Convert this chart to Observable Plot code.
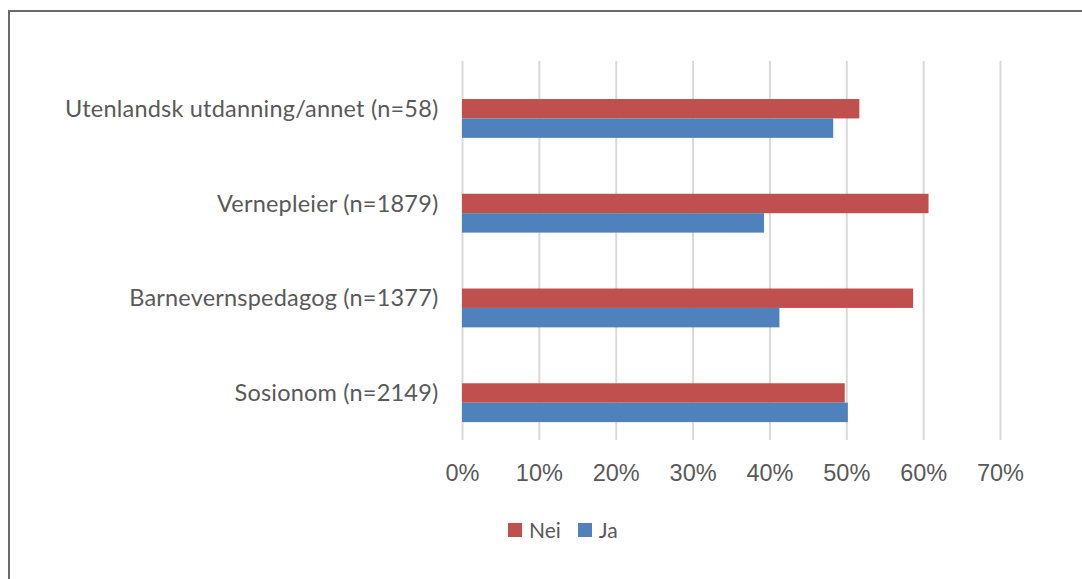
<!DOCTYPE html>
<html>
<head>
<meta charset="utf-8">
<script src="https://cdn.jsdelivr.net/npm/d3@7"></script>
<script src="https://cdn.jsdelivr.net/npm/@observablehq/plot@0.6"></script>
<style>
  html, body { margin: 0; padding: 0; background: #fff; }
  #wrap { position: relative; width: 1082px; height: 579px; overflow: hidden; background: #fff; }
  #border { position: absolute; left: 8px; top: 10px; right: -4px; bottom: -4px;
            border-top: 2px solid #6a6a6a; border-left: 2px solid #6a6a6a; pointer-events: none; }
  #chart { position: absolute; left: 0; top: 0; }
  #chart g[aria-label="y-axis tick label"] text { letter-spacing: 0.2px; }
  #legend { position: absolute; left: 508px; top: 519px; height: 22px; display: flex; align-items: center;
            font-family: Lato, "Open Sans", sans-serif; font-size: 21px; color: #595959; line-height: 22px; }
  #legend .sw { display: inline-block; width: 14px; height: 14px; margin-right: 7px; }
  #legend .item { display: flex; align-items: center; margin-right: 17px; }
</style>
</head>
<body>
<div id="wrap">
  <div id="chart"></div>
  <div id="border"></div>
  <div id="legend"></div>
</div>
<script>
// ---- data ----
const categories = [
  "Utenlandsk utdanning/annet (n=58)",
  "Vernepleier (n=1879)",
  "Barnevernspedagog (n=1377)",
  "Sosionom (n=2149)"
];
const series = ["Nei", "Ja"];
const nei = [0.517, 0.607, 0.587, 0.498];
const ja  = [0.483, 0.393, 0.413, 0.502];
const xTicks = [0, 0.1, 0.2, 0.3, 0.4, 0.5, 0.6, 0.7];
const colors = ["#C0504D", "#4F81BD"];

// ---- layout ----
const W = 1082, H = 579;
const mt = 61, mb = 139;
const padIn = 0.59, padOut = 0.295, yAlign = 0.68;
const band = d3.scaleBand().domain(categories).range([mt, H - mb])
  .paddingInner(padIn).paddingOuter(padOut).align(yAlign);
const half = band.bandwidth() / 2;

const table = categories.map((c, i) => ({category: c, nei: nei[i], ja: ja[i]}));
const fmt = d3.format(".0%");

const chart = Plot.plot({
  width: W,
  height: H,
  marginLeft: 462,
  marginRight: 82,
  marginTop: mt,
  marginBottom: mb,
  style: {background: "transparent", overflow: "visible"},
  x: {domain: [0, 0.7], label: null},
  y: {domain: categories, paddingInner: padIn, paddingOuter: padOut, align: yAlign, round: false, label: null},
  marks: [
    Plot.ruleX(xTicks, {stroke: "#d9d9d9", strokeWidth: 2}),
    Plot.barX(table, {y: "category", x: "nei", fill: colors[0], insetBottom: half}),
    Plot.barX(table, {y: "category", x: "ja", fill: colors[1], insetTop: half}),
    Plot.axisX({ticks: xTicks, tickFormat: fmt, tickSize: 0, tickPadding: 24,
                fontSize: 23.5, fill: "#595959", fontFamily: "'Liberation Sans', Arial, sans-serif", label: null}),
    Plot.axisY({tickSize: 0, tickPadding: 24, fontSize: 23.5, fill: "#595959",
                fontFamily: "Lato, 'Open Sans', sans-serif", dy: -9.6, label: null})
  ]
});
chart.style.maxWidth = "none";
document.getElementById("chart").appendChild(chart);

// ---- legend ----
const leg = document.getElementById("legend");
series.forEach((name, i) => {
  const item = document.createElement("span");
  item.className = "item";
  const sw = document.createElement("span");
  sw.className = "sw";
  sw.style.background = colors[i];
  item.appendChild(sw);
  item.appendChild(document.createTextNode(name));
  leg.appendChild(item);
});
</script>
</body>
</html>
